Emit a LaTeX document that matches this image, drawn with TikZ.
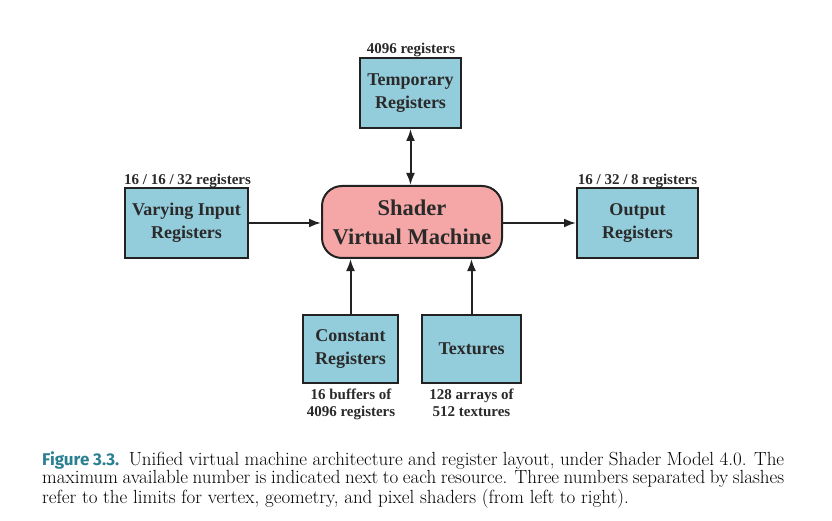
\documentclass[tikz,border=0pt]{standalone}
\usepackage{fontspec}
\setmainfont{Liberation Serif}
\newfontfamily\lmserif{Latin Modern Roman}
\newfontfamily\capsans{Fira Sans}
\usetikzlibrary{arrows.meta}
\definecolor{boxblue}{HTML}{93CCDB}
\definecolor{boxpink}{HTML}{F4A7A6}
\definecolor{edgec}{HTML}{222222}
\definecolor{txtc}{HTML}{2A2A2A}
\definecolor{figteal}{HTML}{2A8090}
\tikzset{
  bluebox/.style={draw=edgec, line width=2pt, fill=boxblue, align=center, inner sep=0pt,
    font=\fontsize{18}{23}\selectfont\bfseries, text=txtc},
  vmbox/.style={draw=edgec, line width=2pt, fill=boxpink, align=center, inner sep=0pt,
    rounded corners=20pt, font=\fontsize{22.5}{29}\selectfont\bfseries, text=txtc},
  lbl/.style={font=\fontsize{15}{17}\selectfont\bfseries, text=txtc, inner sep=0pt, align=center},
  conn/.style={line width=2pt, draw=edgec, -{Latex[length=12pt,width=9pt]}},
  conn2/.style={line width=2pt, draw=edgec, {Latex[length=12pt,width=9pt]}-{Latex[length=12pt,width=9pt]}}
}
\begin{document}
\begin{tikzpicture}[x=1pt,y=-1pt]
\useasboundingbox (0,0) rectangle (832,521);
\node[bluebox, minimum width=101pt, minimum height=70pt] (temp) at (410.5,93) {Temporary\\Registers};
\node[bluebox, minimum width=123pt, minimum height=70pt] (vary) at (186.5,223) {Varying Input\\Registers};
\node[vmbox, minimum width=180pt, minimum height=72pt] (vm) at (412,222) {Shader\\Virtual Machine};
\node[bluebox, minimum width=121pt, minimum height=70pt] (out) at (637.5,223) {Output\\Registers};
\node[bluebox, minimum width=95pt, minimum height=68pt] (const) at (350.5,349) {Constant\\Registers};
\node[bluebox, minimum width=99pt, minimum height=68pt] (tex) at (471.5,349) {Textures};

\node[lbl, anchor=base] (ltemp) at (411,54) {4096 registers};
\node[lbl, anchor=base] (lvary) at (187.5,185) {16 / 16 / 32 registers};
\node[lbl, anchor=base] (lout) at (637.5,185) {16 / 32 / 8 registers};
\node[lbl, anchor=north] (lconst) at (351,389) {16 buffers of\\4096 registers};
\node[lbl, anchor=north] (ltex) at (471.5,389) {128 arrays of\\512 textures};

\draw[conn2] (temp.south) -- (vm.north -| temp.south);
\draw[conn] (vary.east) -- (vary.east -| vm.west);
\draw[conn] (vm.east |- out.west) -- (out.west);
\draw[conn] (const.north) -- (vm.south -| const.north);
\draw[conn] (tex.north) -- (vm.south -| tex.north);

\node[anchor=north west, inner sep=0pt, text width=742pt, align=justify,
  font=\lmserif\fontsize{19}{18}\selectfont] (cap) at (42,452)
  {{\capsans\fontsize{17}{18}\selectfont\bfseries\color{figteal}Figure 3.3.}\enspace Unified virtual machine architecture and register layout, under Shader Model 4.0. The maximum available number is indicated next to each resource. Three numbers separated by slashes refer to the limits for vertex, geometry, and pixel shaders (from left to right).};
\end{tikzpicture}
\end{document}
